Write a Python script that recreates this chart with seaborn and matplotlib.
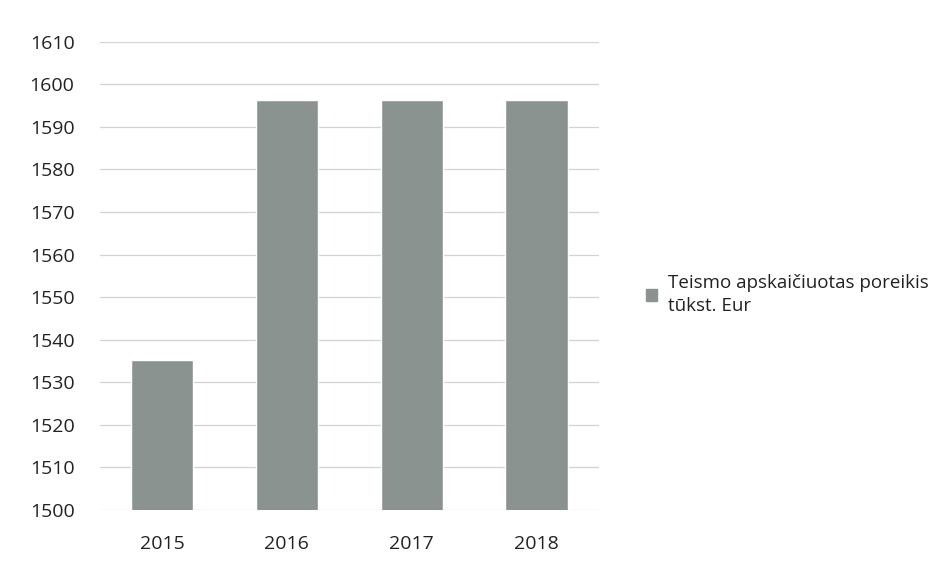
import numpy as np
import pandas as pd
import matplotlib
matplotlib.use("Agg")
import matplotlib.pyplot as plt
import seaborn as sns
from matplotlib.patches import Patch

# Duomenys
metai = ["2015", "2016", "2017", "2018"]
poreikis = [1535.3, 1596.3, 1596.3, 1596.3]
serija = "Teismo apskaičiuotas poreikis\ntūkst. Eur"

df = pd.DataFrame({"Metai": metai, "Poreikis": poreikis})

sns.set_style("white")
plt.rcParams["font.family"] = ["Open Sans", "DejaVu Sans"]

fig = plt.figure(figsize=(9.48, 5.63), dpi=100)
ax = fig.add_axes([0.105, 0.094, 0.527, 0.832])

spalva = "#8b9391"
sns.barplot(data=df, x="Metai", y="Poreikis", color=spalva, width=0.5,
            saturation=1, ax=ax, zorder=3)

ax.set_ylim(1500, 1610)
ax.set_xlim(-0.5, 3.5)
ax.set_yticks(np.arange(1500, 1611, 10))
ax.yaxis.grid(True, color="#d2d2d2", linewidth=0.9, zorder=0)
ax.set_xlabel("")
ax.set_ylabel("")
for s in ax.spines.values():
    s.set_visible(False)
ax.tick_params(axis="both", length=0, labelsize=14, colors="#222222")
ax.tick_params(axis="y", pad=18)
ax.tick_params(axis="x", pad=18)

leg = ax.legend(handles=[Patch(color=spalva, label=serija)], loc="center left",
                bbox_to_anchor=(1.06, 0.46), frameon=False, fontsize=13.5,
                handlelength=0.6, handleheight=0.6, handletextpad=0.6,
                labelcolor="#222222")
for t in leg.get_texts():
    t.set_linespacing(1.35)

fig.savefig("out.png", dpi=100, facecolor="white")
